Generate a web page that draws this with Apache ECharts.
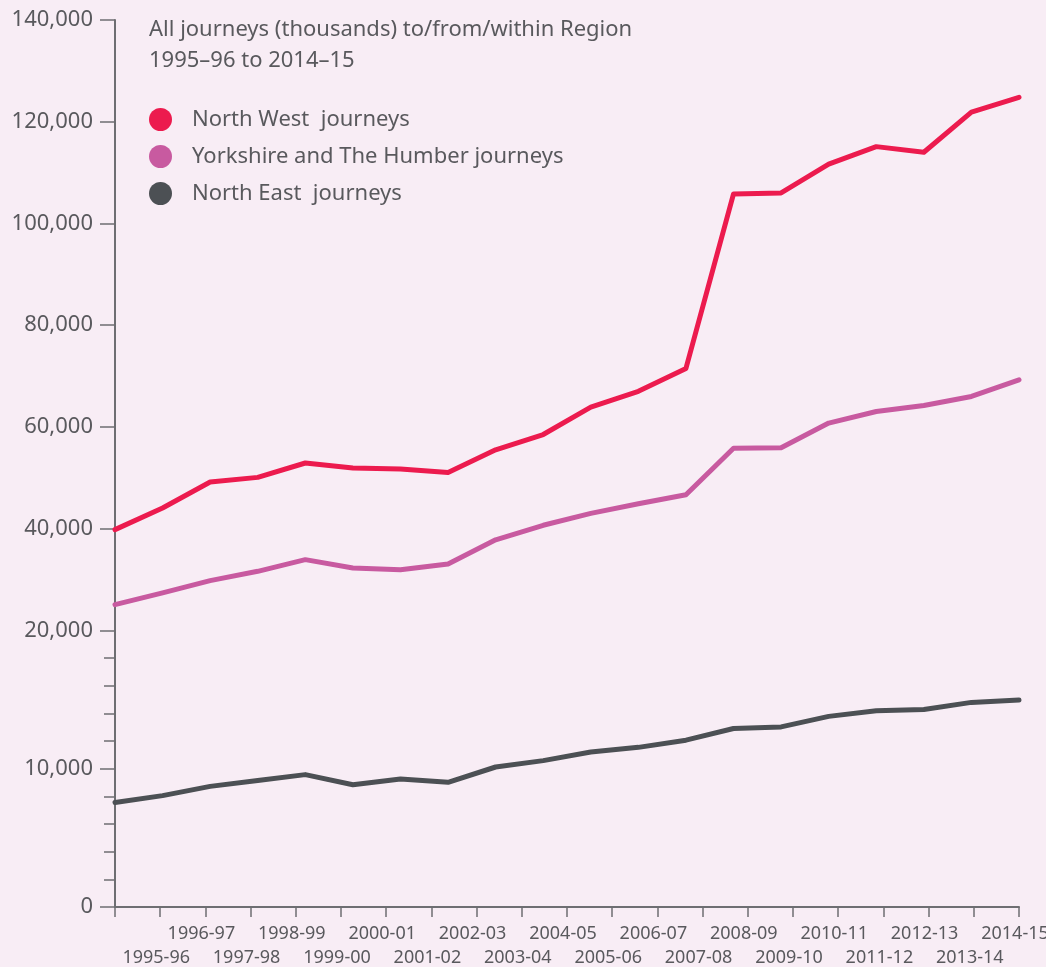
<!DOCTYPE html>
<html>
<head>
<meta charset="utf-8">
<script src="https://cdn.jsdelivr.net/npm/echarts@6/dist/echarts.min.js"></script>
<style>
  html, body { margin: 0; padding: 0; background: #f8edf5; }
  #chart { width: 1046px; height: 967px; }
</style>
</head>
<body>
<div id="chart"></div>
<script>
// ---- Data (thousands of journeys) ----
const years = ['1995-96','1996-97','1997-98','1998-99','1999-00','2000-01','2001-02','2002-03','2003-04','2004-05',
               '2005-06','2006-07','2007-08','2008-09','2009-10','2010-11','2011-12','2012-13','2013-14','2014-15'];
const northWest = [39800, 44050, 49160, 50070, 52900, 51900, 51700, 51050, 55500, 58500,
                   63900, 67000, 71500, 105800, 106000, 111650, 115100, 114000, 121870, 124800];
const yorkshire = [25050, 27350, 29770, 31600, 33900, 32260, 31930, 33050, 37800, 40650,
                   43000, 44900, 46650, 55800, 55900, 60750, 63030, 64210, 65980, 69260];
const northEast = [7560, 8050, 8720, 9150, 9570, 8840, 9250, 9010, 10120, 10580,
                   11200, 11540, 12060, 12900, 13020, 13780, 14190, 14270, 14790, 14970];
const seriesNames = ['North West  journeys', 'Yorkshire and The Humber journeys', 'North East  journeys'];
const yLabelValues = [0, 10000, 20000, 40000, 60000, 80000, 100000, 120000, 140000];
const yMinorValues = [2000, 4000, 6000, 8000, 12000, 14000, 16000, 18000];
const titleLines = ['All journeys (thousands) to/from/within Region', '1995–96 to 2014–15'];

// ---- Broken scale: 0–20,000 is stretched relative to 20,000–140,000 ----
const K = 2.72;
const BREAK = 20000;
function toAxis(v) { return v <= BREAK ? v * K : BREAK * K + (v - BREAK); }
function fromAxis(a) { return a <= BREAK * K ? a / K : BREAK + (a - BREAK * K); }
const yMax = toAxis(140000);

const tickCats = [''].concat(years);
const FONT = '"Noto Sans", "Open Sans", sans-serif';
const TXT = '#59595d';
const AX = '#6e6e72';

const chart = echarts.init(document.getElementById('chart'), null, { renderer: 'canvas' });
chart.setOption({
  backgroundColor: '#f8edf5',
  animation: false,
  color: ['#ec1b4e', '#c85aa0', '#4c5054'],
  title: {
    text: titleLines.join('\n'),
    left: 149, top: 14, padding: 0,
    textStyle: { fontFamily: FONT, fontSize: 22, fontWeight: 'normal', color: TXT, lineHeight: 31 }
  },
  legend: {
    data: seriesNames,
    orient: 'vertical',
    left: 149, top: 108, padding: 0,
    itemWidth: 53, itemHeight: 23, itemGap: 14,
    icon: 'circle',
    textStyle: { fontFamily: FONT, fontSize: 22, color: TXT }
  },
  grid: { left: 115, top: 20, width: 904, bottom: 60, containLabel: false, outerBoundsMode: 'none' },
  xAxis: [
    {
      type: 'category', data: tickCats, boundaryGap: false, position: 'bottom',
      axisLine: { lineStyle: { color: AX, width: 2 } },
      axisTick: { interval: 0, length: 10, lineStyle: { color: AX, width: 1.5 } },
      axisLabel: {
        interval: 0, margin: 15, fontFamily: FONT, fontSize: 18, color: TXT, lineHeight: 24,
        padding: [0, 8, 0, 0],
        formatter: function (v, i) { return (i % 2 === 1) ? '\n' + v : v; }
      },
      splitLine: { show: false }
    },
    { type: 'category', data: years, boundaryGap: false, show: false }
  ],
  yAxis: [
    {
      type: 'value', min: 0, max: yMax, position: 'left',
      axisLine: { show: true, lineStyle: { color: AX, width: 2 } },
      axisTick: { show: true, length: 15, customValues: yLabelValues.map(toAxis), lineStyle: { color: AX, width: 1.5 } },
      axisLabel: {
        customValues: yLabelValues.map(toAxis), margin: 22,
        fontFamily: FONT, fontSize: 22, color: TXT,
        formatter: function (a) { return Math.round(fromAxis(a)).toLocaleString('en-US'); }
      },
      splitLine: { show: false }
    },
    {
      type: 'value', min: 0, max: yMax, position: 'left', offset: 0,
      axisLine: { show: false },
      axisTick: { show: true, length: 11, customValues: yMinorValues.map(toAxis), lineStyle: { color: AX, width: 1.5 } },
      axisLabel: { show: false },
      splitLine: { show: false }
    }
  ],
  series: [
    { name: seriesNames[0], data: northWest },
    { name: seriesNames[1], data: yorkshire },
    { name: seriesNames[2], data: northEast }
  ].map(s => ({
    name: s.name, type: 'line', xAxisIndex: 1, yAxisIndex: 0,
    data: s.data.map(toAxis),
    symbol: 'none',
    lineStyle: { width: 5, cap: 'round', join: 'round' }
  }))
});
</script>
</body>
</html>
